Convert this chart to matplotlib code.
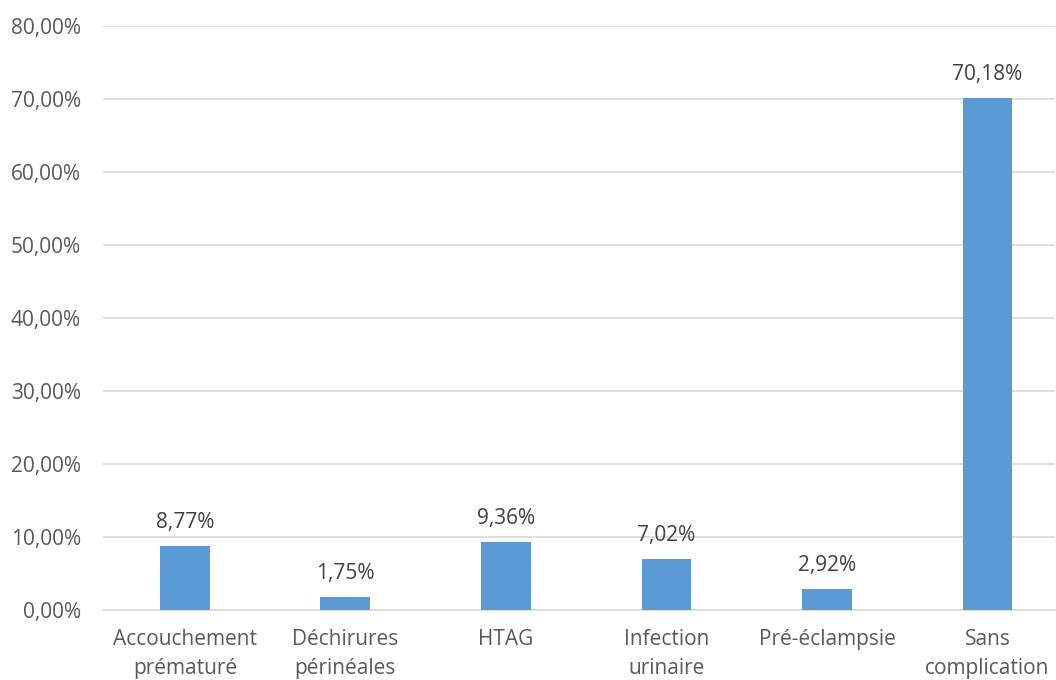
import matplotlib.pyplot as plt
import numpy as np

# Complications observées (% des patientes)
categories = ["Accouchement\nprématuré", "Déchirures\npérinéales", "HTAG",
              "Infection\nurinaire", "Pré-éclampsie", "Sans\ncomplication"]
values = [8.77, 1.75, 9.36, 7.02, 2.92, 70.18]
yticks = [0, 10, 20, 30, 40, 50, 60, 70, 80]


def fr_pct(v):
    return f"{v:.2f}%".replace(".", ",")


plt.rcParams['font.family'] = ['Open Sans', 'DejaVu Sans']

fig = plt.figure(figsize=(10.56, 6.8), dpi=100)
ax = fig.add_axes([0.0975, 0.1029, 0.9015, 0.8589])

x = np.arange(len(categories))
bars = ax.bar(x, values, width=0.31, color='#5B9BD5', zorder=3)

for rect, v in zip(bars, values):
    ax.annotate(fr_pct(v), (rect.get_x() + rect.get_width() / 2, v),
                xytext=(0, 13), textcoords='offset pixels',
                ha='center', va='bottom', fontsize=15, color='#404040')

ax.set_ylim(0, 80)
ax.set_xlim(-0.51, 5.42)
ax.set_yticks(yticks)
ax.set_yticklabels([fr_pct(t) for t in yticks], fontsize=15, color='#595959')
ax.set_xticks(x)
ax.set_xticklabels(categories, fontsize=15, color='#595959', linespacing=1.45)

ax.yaxis.grid(True, color='#D9D9D9', linewidth=1.2, zorder=0)
ax.tick_params(axis='both', length=0)
ax.tick_params(axis='y', pad=16)
ax.tick_params(axis='x', pad=14)
for side in ['top', 'right', 'left']:
    ax.spines[side].set_visible(False)
ax.spines['bottom'].set_color('#D9D9D9')
ax.spines['bottom'].set_linewidth(1.2)

fig.savefig('out.png', dpi=100)
